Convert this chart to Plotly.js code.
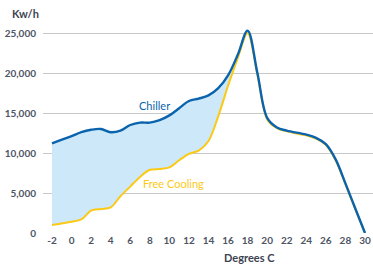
<!DOCTYPE html>
<html><head><meta charset="utf-8">
<script src="https://cdn.plot.ly/plotly-3.0.1.min.js"></script>
<style>html,body{margin:0;padding:0;background:#fff}#c{width:373px;height:264px}</style>
</head><body><div id="c"></div>
<script>
const degrees = [-2,0,1,2,3,4,5,6,7,8,9,10,11,12,13,14,15,16,17,18,19,20,21,22,24,25,26,27,28,29,30];
const chiller = [11200,12100,12600,12900,13000,12600,12800,13500,13800,13800,14100,14700,15600,16500,16800,17200,18100,19700,22300,25300,20000,14400,13200,12800,12300,11900,11100,9200,6200,3100,0];
const freeCooling = [1000,1400,1700,2800,3000,3200,4600,5800,7000,7900,8000,8200,9100,9900,10300,11500,14600,18400,21900,25000,19800,14200,13100,12700,12200,11800,11000,9100,6100,3000,0];
const xTicks = [-2,0,2,4,6,8,10,12,14,16,18,20,22,24,26,28,30];
const yTicks = [0,5000,10000,15000,20000,25000];

const fontFam = 'Lato, "Open Sans", sans-serif';
const traces = [
  {x: degrees, y: freeCooling, mode: 'lines', line: {color: '#fbc916', width: 2, shape: 'spline', smoothing: 0.9}, hoverinfo: 'skip'},
  {x: degrees, y: chiller, mode: 'lines', fill: 'tonexty', fillcolor: '#cde9f9', line: {color: '#0a63ad', width: 2.4, shape: 'spline', smoothing: 1}, hoverinfo: 'skip'}
];
const layout = {
  width: 373, height: 264,
  margin: {l: 43, r: 0, t: 20, b: 31},
  paper_bgcolor: '#fff', plot_bgcolor: '#fff',
  showlegend: false,
  font: {family: fontFam, color: '#4d5464', size: 10},
  xaxis: {range: [-2.92, 30.82], tickvals: xTicks, ticktext: xTicks.map(String), showgrid: false, zeroline: false, showline: false, ticks: '', tickfont: {size: 10, color: '#4d5464', weight: 'bold'}, fixedrange: true},
  yaxis: {range: [0, 26625], tickvals: yTicks, tickformat: ',d', showgrid: true, gridcolor: '#c9c9c9', gridwidth: 1, zeroline: false, showline: false, ticks: '', ticklabelstandoff: 6, tickfont: {size: 10, color: '#4d5464', weight: 'bold'}, fixedrange: true},
  annotations: [
    {text: 'Kw/h', xref: 'paper', yref: 'paper', x: -0.1, y: 1.0, yshift: 7, xanchor: 'left', yanchor: 'middle', showarrow: false, font: {size: 11, color: '#3d4352', weight: 'bold'}},
    {text: 'Degrees C', xref: 'x', yref: 'paper', x: 18.2, y: 0, yshift: -24, xanchor: 'center', yanchor: 'middle', showarrow: false, font: {size: 11, color: '#3d4352', weight: 'bold'}},
    {text: 'Chiller', xref: 'x', yref: 'y', x: 8.5, y: 16000, xanchor: 'center', yanchor: 'middle', showarrow: false, font: {size: 11, color: '#0a63ad'}},
    {text: 'Free Cooling', xref: 'x', yref: 'y', x: 10.4, y: 6200, xanchor: 'center', yanchor: 'middle', showarrow: false, font: {size: 11, color: '#fbc916'}}
  ]
};
Plotly.newPlot('c', traces, layout, {displayModeBar: false, staticPlot: true});
</script></body></html>
